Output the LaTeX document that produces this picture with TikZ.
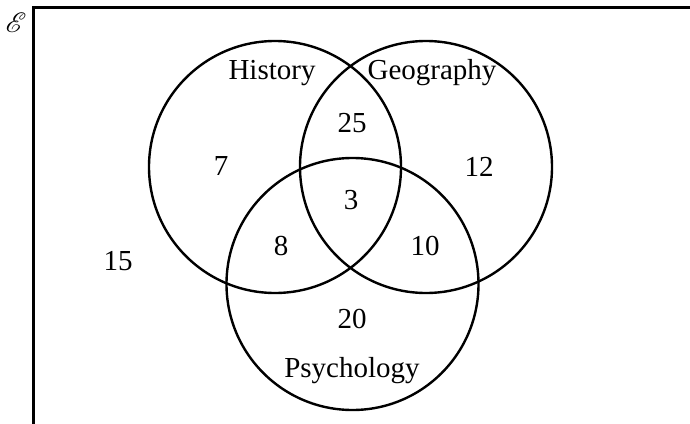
\documentclass[tikz,border=0pt]{standalone}
\usepackage{fontspec}
\usepackage{mathrsfs}
\setmainfont{Liberation Serif}
\begin{document}
\begin{tikzpicture}[x=1pt,y=-1pt,
  setcircle/.style={draw, circle, line width=2.4pt, minimum size=252pt, inner sep=0pt},
  lbl/.style={font=\fontsize{29}{34}\selectfont, inner sep=0pt}]
\useasboundingbox (0,0) rectangle (690,423);
\begin{scope}
\clip (0,0) rectangle (690,423);
\draw[line width=3pt] (33,440) -- (33,7.6) -- (700,7.6);
\end{scope}
\node[inner sep=0pt] (univ) at (16,23) {\scalebox{2.8}{$\mathscr{E}$}};
\node[setcircle] (H) at (275,167) {};
\node[setcircle] (G) at (426,167) {};
\node[setcircle] (P) at (352.5,284) {};
\node[lbl] (tH) at (272,73) {History};
\node[lbl] (tG) at (432,73) {Geography};
\node[lbl] (tP) at (352,371) {Psychology};
\node[lbl] (n25) at (352,123) {25};
\node[lbl] (n7) at (221,166) {7};
\node[lbl] (n12) at (479,167) {12};
\node[lbl] (n3) at (351,200) {3};
\node[lbl] (n8) at (281,246) {8};
\node[lbl] (n10) at (425,246) {10};
\node[lbl] (n15) at (118,261) {15};
\node[lbl] (n20) at (352,319) {20};
\end{tikzpicture}
\end{document}
